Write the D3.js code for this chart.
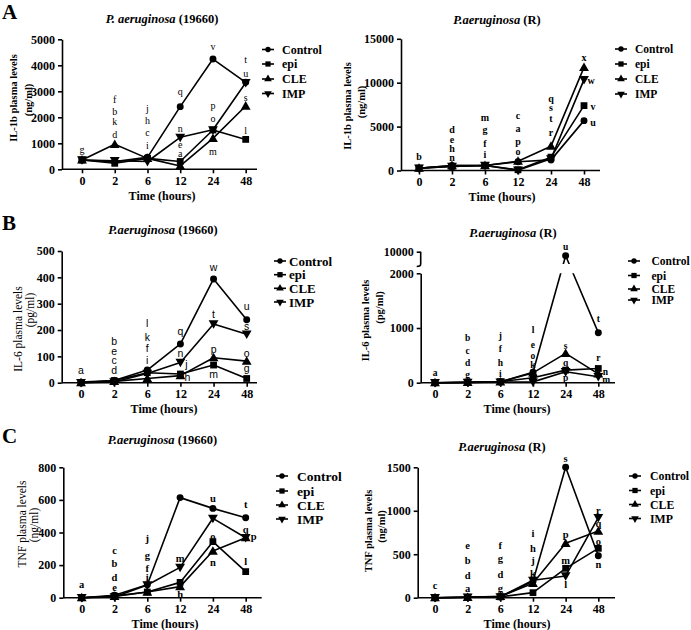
<!DOCTYPE html>
<html><head><meta charset="utf-8">
<script src="https://cdn.jsdelivr.net/npm/d3@7"></script>
<style>body{margin:0;background:#fff}svg{display:block}</style>
</head><body>
<svg id="c" width="691" height="630"></svg>
<script>
// ---------- DATA ----------
const times = ["0","2","6","12","24","48"];
const seriesNames = ["Control","epi","CLE","IMP"];

// A left: IL-1b, P. aeruginosa (19660)
const il1bA_control = [360, 295, 460, 2410, 4240, 3346];
const il1bA_epi     = [360, 230, 420, 300, 1510, 1150];
const il1bA_cle     = [360, 960, 420, 130, 1190, 2435];
const il1bA_imp     = [360, 330, 300, 1230, 1520, 3330];
const il1bA_ticks   = [0, 1000, 2000, 3000, 4000, 5000];
const il1bA_letters = [["0","g",769],["2","f",2667],["2","b",2218],["2","k",1833],["2","d",1320],
  ["6","j",2320],["6","h",1859],["6","c",1385],["6","i",897],
  ["12","q",2987],["12","n",1540],["12","e",930],["12","a",590],
  ["24","v",4718],["24","p",2436],["24","o",1961],["24","m",679],
  ["48","t",4205],["48","u",3692],["48","s",2731],["48","l",1487]];

// A right: IL-1b, P. aeruginosa (R)
const il1bR_control = [265, 570, 570, 1000, 1210, 5680];
const il1bR_epi     = [265, 455, 570, 80, 1520, 7390];
const il1bR_cle     = [265, 570, 570, 1060, 2770, 11750];
const il1bR_imp     = [265, 455, 570, 30, 1330, 10350];
const il1bR_ticks   = [0, 5000, 10000, 15000];
const il1bR_letters = [["0","b",1592],["2","d",4624],["2","e",3487],["2","h",2464],["2","n",1402],
  ["6","m",5988],["6","g",4624],["6","f",3032],["6","i",1819],
  ["12","c",6254],["12","a",4738],["12","p",3297],["12","o",2085],
  ["24","q",8149],["24","s",7125],["24","t",5875],["24","r",4245],
  ["48","x",12886,0],["48","w",10233,7],["48","v",7277,9],["48","u",5382,9]];

// B left: IL-6, P. aeruginosa (19660)
const il6A_control = [2, 8, 48, 147, 394, 239];
const il6A_epi     = [0, 8, 38, 33, 67, 16];
const il6A_cle     = [0, 5, 16, 27, 95, 82];
const il6A_imp     = [0, 3, 35, 77, 223, 184];
const il6A_ticks   = [0, 100, 200, 300, 400, 500];
const il6A_letters = [["0","a",46],["2","b",156],["2","e",118],["2","c",82],["2","d",46],
  ["6","l",223],["6","k",171],["6","f",130],["6","i",84],
  ["12","q",194],["12","n",109],["12","j",67,6],["12","h",19,7],
  ["24","w",438],["24","t",257],["24","p",124],["24","m",29],
  ["48","u",289],["48","s",213],["48","o",111],["48","g",52]];

// B right: IL-6, P. aeruginosa (R)  (broken axis)
const il6R_control = [0, 5, 15, 190, 9350, 915];
const il6R_epi     = [0, 10, 20, 90, 230, 260];
const il6R_cle     = [0, 5, 15, 180, 537, 160];
const il6R_imp     = [0, 5, 10, 15, 200, 110];
const il6R_ticks   = [0, 1000, 2000];
const il6R_ticksHigh = [10000];
const il6R_letters = [["0","a",183],["2","b",811],["2","c",585],["2","d",366],["2","g",141],
  ["6","j",854],["6","f",616],["6","h",354],["6","i",159],
  ["12","l",970],["12","e",690],["12","o",495],["12","k",330],
  ["24","u",10715],["24","s",671],["24","q",366],["24","p",80],
  ["48","t",1159],["48","r",446],["48","n",200,7],["48","m",45,8]];

// C left: TNF, P. aeruginosa (19660)
const tnfA_control = [0, 15, 80, 614, 548, 491];
const tnfA_epi     = [0, 10, 35, 94, 344, 160];
const tnfA_cle     = [0, 8, 35, 68, 286, 368];
const tnfA_imp     = [0, 5, 78, 186, 487, 368];
const tnfA_ticks   = [0, 200, 400, 600, 800];
const tnfA_letters = [["0","a",82],["2","c",288],["2","b",207],["2","d",125],["2","e",63],
  ["6","j",364],["6","g",256],["6","f",180],["6","i",125],
  ["12","m",241],["12","k",88],["12","h",20],
  ["24","u",610],["24","o",374],["24","n",215],
  ["48","t",569],["48","q",415],["48","p",374,8],["48","l",221]];

// C right: TNF, P. aeruginosa (R)
const tnfR_control = [0, 5, 10, 190, 1500, 483];
const tnfR_epi     = [0, 5, 10, 58, 338, 568];
const tnfR_cle     = [0, 5, 15, 165, 625, 767];
const tnfR_imp     = [0, 5, 10, 200, 250, 920];
const tnfR_ticks   = [0, 500, 1000, 1500];
const tnfR_letters = [["0","c",134],["2","e",595],["2","b",426],["2","d",253],["2","a",100],
  ["6","f",598],["6","g",453],["6","d",261],["6","g",100],
  ["12","i",740],["12","h",568],["12","j",426],["12","k",272],
  ["24","s",1603],["24","p",729],["24","m",426],["24","l",153],
  ["48","r",1001],["48","q",855],["48","o",644],["48","n",376]];

// ---------- DRAWING ----------
const SERIF = "'Liberation Serif','Times New Roman',serif";
const SANS = "'Liberation Sans',Arial,sans-serif";
const svg = d3.select("#c");
const fmt = d3.format("d");
const SW = 1.6;

const symbols = [
  {t: d3.symbolCircle, s: 38, r: 0},
  {t: d3.symbolSquare, s: 46, r: 0},
  {t: d3.symbolTriangle, s: 42, r: 0},
  {t: d3.symbolTriangle, s: 42, r: 180}
];

const panels = [
  {series:[il1bA_control, il1bA_epi, il1bA_cle, il1bA_imp], ticks: il1bA_ticks, letters: il1bA_letters,
   yDomain:[0,5000], yRange:[169.3,39.3], ax:62, x0:82, x1:245.7, xEnd:257,
   title:["P. aeruginosa"," (19660)"], titleX:162, titleY:19, titleSize:12.5,
   ylab:["IL-1b plasma levels","(ng/ml)"], ylabX:[13.5,28], ylabY:[98,100], ylabW:"bold", ylabSize:10.5,
   xlabX:162, xlabY:196, legCx:268, legTx:282, legY:[49.5,64,79,93.5], legSize:12,
   letFont:SERIF, letW:"normal", letSize:10},
  {series:[il1bR_control, il1bR_epi, il1bR_cle, il1bR_imp], ticks: il1bR_ticks, letters: il1bR_letters,
   yDomain:[0,15000], yRange:[170.5,38.8], ax:401, x0:419, x1:584, xEnd:600,
   title:["P.aeruginosa"," (R)"], titleX:497, titleY:20, titleSize:12.5,
   ylab:["IL-1b plasma levels","(ng/ml)"], ylabX:[347.5,361], ylabY:[106,102], ylabW:"bold", ylabSize:10.5,
   xlabX:502, xlabY:197, legCx:621, legTx:635, legY:[49,64,79,94], legSize:11.5,
   letFont:SERIF, letW:"bold", letSize:10},
  {series:[il6A_control, il6A_epi, il6A_cle, il6A_imp], ticks: il6A_ticks, letters: il6A_letters,
   yDomain:[0,500], yRange:[382.7,251], ax:61.7, x0:81, x1:246.7, xEnd:257,
   title:["P.aeruginosa"," (19660)"], titleX:163, titleY:230, titleSize:12.5,
   ylab:["IL-6 plasma levels","(pg/ml)"], ylabX:[18.3,29.5], ylabY:[329,310], ylabW:"normal", ylabSize:11.5,
   xlabX:164, xlabY:408.5, legCx:280, legTx:289, legY:[261,274.7,288.3,302], legSize:13,
   letFont:SANS, letW:"normal", letSize:10.5},
  {series:[il6R_control, il6R_epi, il6R_cle, il6R_imp], ticks: il6R_ticks, ticksHigh: il6R_ticksHigh, letters: il6R_letters,
   brk:true, yDomain:[0,2000,8000,10000], yRange:[382.7,273.3,264,251.7], ax:420.7, x0:435, x1:598.3, xEnd:615,
   title:["P.aeruginosa"," (R)"], titleX:513, titleY:233, titleSize:12.5,
   ylab:["IL-6 plasma levels","(pg/ml)"], ylabX:[365,379.3], ylabY:[320.5,307.5], ylabW:"bold", ylabSize:10.5,
   xlabX:517, xlabY:408.5, legCx:634, legTx:651.5, legY:[261,275.5,289,300], legSize:11.5,
   letFont:SERIF, letW:"bold", letSize:9.5},
  {series:[tnfA_control, tnfA_epi, tnfA_cle, tnfA_imp], ticks: tnfA_ticks, letters: tnfA_letters,
   yDomain:[0,800], yRange:[597.7,467.3], ax:63.3, x0:81.7, x1:245.7, xEnd:261.7,
   title:["P.aeruginosa"," (19660)"], titleX:162.5, titleY:440, titleSize:12.5,
   ylab:["TNF plasma levels","(ng/ml)"], ylabX:[21.7,34.3], ylabY:[524,525], ylabW:"normal", ylabSize:11.5,
   xlabX:165, xlabY:623.5, legCx:282, legTx:297, legY:[476,491,505,519], legSize:13.5,
   letFont:SERIF, letW:"bold", letSize:10.5},
  {series:[tnfR_control, tnfR_epi, tnfR_cle, tnfR_imp], ticks: tnfR_ticks, letters: tnfR_letters,
   yDomain:[0,1500], yRange:[597.7,467.3], ax:417.7, x0:435, x1:598.3, xEnd:615,
   title:["P.aeruginosa"," (R)"], titleX:502, titleY:447, titleSize:12.5,
   ylab:["TNF plasma levels","(ng/ml)"], ylabX:[368.3,381.7], ylabY:[531,526.5], ylabW:"bold", ylabSize:10.5,
   xlabX:517, xlabY:624, legCx:635, legTx:650, legY:[476,490.5,504.5,518.5], legSize:11.8,
   letFont:SERIF, letW:"bold", letSize:10.5}
];

function styleAxis(sel) {
  sel.selectAll("path,line").attr("stroke","#000").attr("stroke-width",SW);
  sel.selectAll("text").attr("font-family",SERIF).attr("font-weight","bold")
     .attr("font-size",12).attr("fill","#000");
}

panels.forEach((p, pi) => {
  const g = svg.append("g");
  const x = d3.scalePoint().domain(times).range([p.x0, p.x1]);
  const y = d3.scaleLinear().domain(p.yDomain).range(p.yRange);
  const yBase = p.yRange[0];

  // Y axis
  if (p.brk) {
    const yLow = d3.scaleLinear().domain([p.yDomain[0], p.yDomain[1]]).range([p.yRange[0], p.yRange[1]]);
    const yHigh = d3.scaleLinear().domain([p.yDomain[2], p.yDomain[3]]).range([p.yRange[2], p.yRange[3]]);
    g.append("g").attr("transform",`translate(${p.ax},0)`)
      .call(d3.axisLeft(yLow).tickValues(p.ticks).tickFormat(fmt).tickSize(4).tickSizeOuter(0).tickPadding(3)).call(styleAxis);
    const gh = g.append("g").attr("transform",`translate(${p.ax},0)`)
      .call(d3.axisLeft(yHigh).tickValues(p.ticksHigh).tickFormat(fmt).tickSize(4).tickSizeOuter(0).tickPadding(3)).call(styleAxis);
    gh.select(".domain").remove();
    const yb = p.yRange[2], yt = p.yRange[3];
    g.append("path").attr("d",`M${p.ax},${yt}L${p.ax},${yb}Q${p.ax},${yb+2.5} ${p.ax-4},${yb+2.5}`)
      .attr("fill","none").attr("stroke","#000").attr("stroke-width",SW);
  } else {
    g.append("g").attr("transform",`translate(${p.ax},0)`)
      .call(d3.axisLeft(y).tickValues(p.ticks).tickFormat(fmt).tickSize(4).tickSizeOuter(0).tickPadding(3)).call(styleAxis);
  }
  // X axis
  const gx = g.append("g").attr("transform",`translate(0,${yBase})`)
    .call(d3.axisBottom(x).tickSize(4).tickPadding(3)).call(styleAxis);
  gx.select(".domain").remove();
  g.append("line").attr("x1",p.ax).attr("x2",p.xEnd).attr("y1",yBase).attr("y2",yBase)
    .attr("stroke","#000").attr("stroke-width",SW);

  // clip for broken axis
  let clipId = null;
  if (p.brk) {
    clipId = "clip" + pi;
    const cp = svg.append("clipPath").attr("id", clipId);
    cp.append("rect").attr("x",p.ax).attr("y",p.yRange[1]).attr("width",p.xEnd-p.ax).attr("height",p.yRange[0]-p.yRange[1]+10);
    cp.append("rect").attr("x",p.ax).attr("y",p.yRange[3]-10).attr("width",p.xEnd-p.ax).attr("height",p.yRange[2]-p.yRange[3]+10);
  }

  // Lines
  const line = d3.line().x((d,i) => x(times[i])).y(d => y(d));
  p.series.forEach((s) => {
    const path = g.append("path").datum(s).attr("d", line)
      .attr("fill","none").attr("stroke","#000").attr("stroke-width",SW).attr("stroke-linejoin","round");
    if (clipId) path.attr("clip-path", `url(#${clipId})`);
  });
  // Markers
  p.series.forEach((s, si) => {
    const sym = symbols[si];
    g.selectAll(null).data(s).enter().append("path")
      .attr("d", d3.symbol().type(sym.t).size(sym.s))
      .attr("transform", (d,i) => `translate(${x(times[i])},${y(d) + (sym.t===d3.symbolTriangle ? (sym.r?-0.8:0.8) : 0)}) rotate(${sym.r})`)
      .attr("fill","#000");
  });

  // significance letters
  g.selectAll(null).data(p.letters).enter().append("text")
    .attr("x", d => x(d[0]) + (d[3] || 0))
    .attr("y", d => y(d[2]))
    .attr("dy","0.32em")
    .attr("text-anchor","middle").attr("fill","#000")
    .attr("font-family", p.letFont).attr("font-weight", p.letW).attr("font-size", p.letSize)
    .text(d => d[1]);

  // title
  const t = g.append("text").attr("x",p.titleX).attr("y",p.titleY).attr("dy","0.35em")
    .attr("text-anchor","middle").attr("font-family",SERIF).attr("font-weight","bold").attr("font-size",p.titleSize);
  t.append("tspan").attr("font-style","italic").text(p.title[0]);
  t.append("tspan").text(p.title[1]);

  // y label
  p.ylab.forEach((l, li) => {
    g.append("text").attr("transform",`translate(${p.ylabX[li]},${p.ylabY[li]}) rotate(-90)`)
      .attr("dy","0.35em").attr("text-anchor","middle")
      .attr("font-family",SERIF).attr("font-weight",p.ylabW).attr("font-size",p.ylabSize).text(l);
  });

  // x label
  g.append("text").attr("x",p.xlabX).attr("y",p.xlabY).attr("dy","0.35em").attr("text-anchor","middle")
    .attr("font-family",SERIF).attr("font-weight","bold").attr("font-size",12).text("Time (hours)");

  // legend
  seriesNames.forEach((n, si) => {
    const ly = p.legY[si];
    g.append("line").attr("x1",p.legCx-6).attr("x2",p.legCx+6).attr("y1",ly).attr("y2",ly)
      .attr("stroke","#000").attr("stroke-width",SW);
    const sym = symbols[si];
    g.append("path").attr("d", d3.symbol().type(sym.t).size(sym.s*0.6))
      .attr("transform",`translate(${p.legCx},${ly}) rotate(${sym.r})`).attr("fill","#000");
    g.append("text").attr("x",p.legTx).attr("y",ly).attr("dy","0.35em")
      .attr("font-family",SERIF).attr("font-weight","bold").attr("font-size",p.legSize).text(n);
  });
});

// panel letters
const panelLetters = ["A","B","C"];
const panelLetterY = [19, 230, 443.3];
panelLetters.forEach((L, i) => {
  svg.append("text").attr("x",2).attr("y",panelLetterY[i])
    .attr("font-family",SERIF).attr("font-weight","bold").attr("font-size",21).text(L);
});
</script>
</body></html>
